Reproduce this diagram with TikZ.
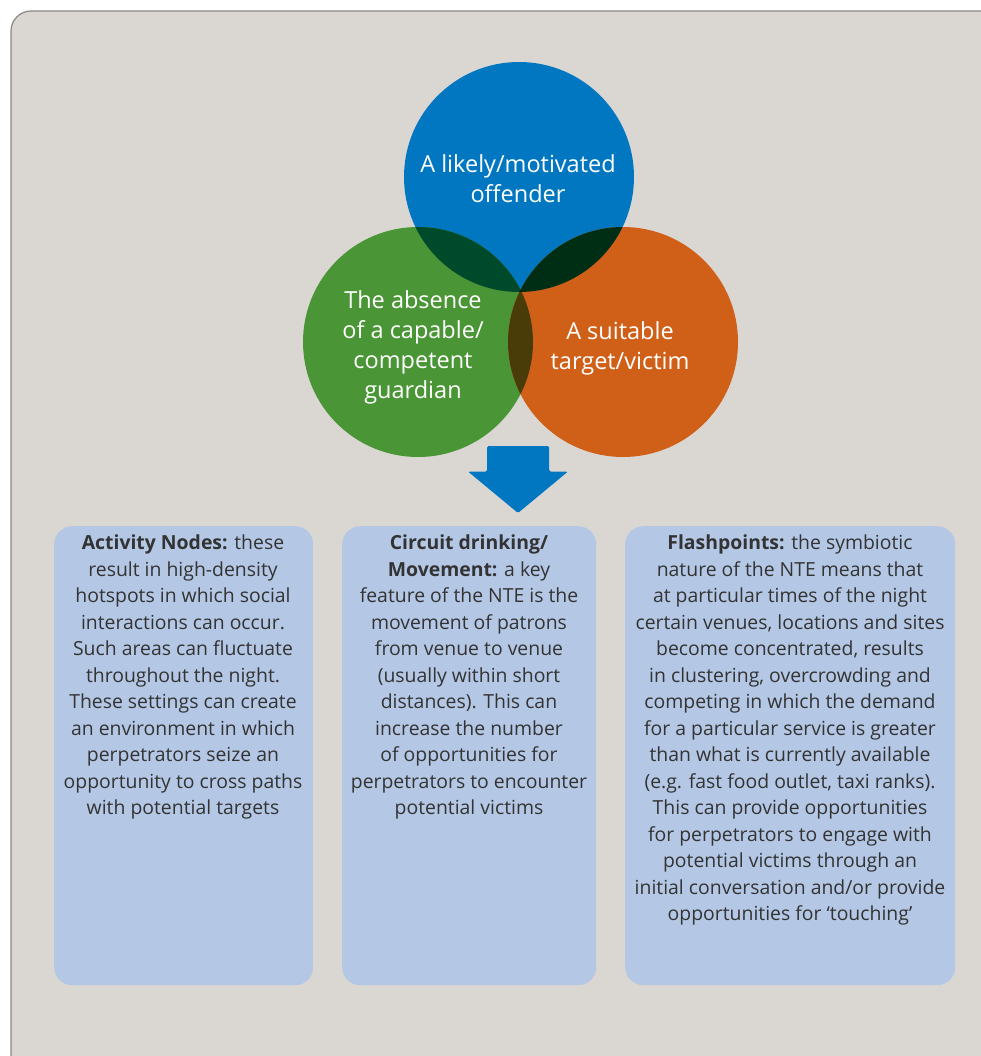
\documentclass[tikz,border=0pt]{standalone}
\usepackage{fontspec}
\setmainfont{Open Sans}
\definecolor{panelfill}{HTML}{DAD7D2}
\definecolor{panelline}{HTML}{8C8782}
\definecolor{cblue}{HTML}{0077C0}
\definecolor{cgreen}{HTML}{4A9535}
\definecolor{corange}{HTML}{D06018}
\definecolor{bg}{HTML}{004A2C}
\definecolor{bo}{HTML}{002E14}
\definecolor{go}{HTML}{4A3C08}
\definecolor{bgo}{HTML}{001A04}
\definecolor{boxfill}{HTML}{B4C8E6}
\definecolor{boxtxt}{HTML}{333333}
\tikzset{
  circtext/.style={text=white, align=center, inner sep=0pt, anchor=north, font=\fontsize{23.5}{30}\selectfont},
  infobox/.style={fill=boxfill, rounded corners=18pt, draw=none, anchor=north west, inner sep=0pt},
  infotext/.style={text=boxtxt, align=center, inner sep=0pt, anchor=north, font=\fontsize{19.4}{26.5}\selectfont},
}
\begin{document}
\begin{tikzpicture}[x=1pt,y=-1pt]
\useasboundingbox (0,0) rectangle (981,1056);
\fill[white] (0,0) rectangle (981,1056);
\draw[panelline, fill=panelfill, line width=1.2pt, rounded corners=20pt] (11,1080) -- (11,11) -- (1000,11) -- (1000,1080) -- cycle;
% circles
\coordinate (cb) at (519,177);
\coordinate (cg) at (418,342);
\coordinate (co) at (623,342);
\fill[cblue] (cb) circle (115pt);
\fill[cgreen] (cg) circle (115pt);
\fill[corange] (co) circle (115pt);
\begin{scope}\clip (cb) circle (115pt); \fill[bg] (cg) circle (115pt);\end{scope}
\begin{scope}\clip (cb) circle (115pt); \fill[bo] (co) circle (115pt);\end{scope}
\begin{scope}\clip (cg) circle (115pt); \fill[go] (co) circle (115pt);\end{scope}
\begin{scope}\clip (cg) circle (115pt); \clip (cb) circle (115pt); \fill[bgo] (co) circle (115pt);\end{scope}
\node[circtext] (toff) at (518,154) {A likely/motivated\\offender};
\node[circtext] (tgua) at (413,290) {The absence\\of a capable/\\competent\\guardian};
\node[circtext] (tvic) at (620,321) {A suitable\\target/victim};
% arrow
\fill[cblue, rounded corners=1.5pt] (487,446) -- (549,446) -- (549,471.5) -- (568,471.5) -- (518,513) -- (468,471.5) -- (487,471.5) -- cycle;
% boxes
\node[infobox, minimum width=259pt, minimum height=459pt] (b1) at (54,526) {};
\node[infobox, minimum width=254pt, minimum height=459pt] (b2) at (342,526) {};
\node[infobox, minimum width=330pt, minimum height=459pt] (b3) at (625,526) {};
\node[infotext] (t1) at (183,535) {\textbf{Activity Nodes:} these\\result in high-density\\hotspots in which social\\interactions can occur.\\Such areas can fluctuate\\throughout the night.\\These settings can create\\an environment in which\\perpetrators seize an\\opportunity to cross paths\\with potential targets};
\node[infotext] (t2) at (469,535) {\textbf{Circuit drinking/}\\\textbf{Movement:} a key\\feature of the NTE is the\\movement of patrons\\from venue to venue\\(usually within short\\distances). This can\\increase the number\\of opportunities for\\perpetrators to encounter\\potential victims};
\node[infotext] (t3) at (790,535) {\textbf{Flashpoints:} the symbiotic\\nature of the NTE means that\\at particular times of the night\\certain venues, locations and sites\\become concentrated, results\\in clustering, overcrowding and\\competing in which the demand\\for a particular service is greater\\than what is currently available\\(e.g. fast food outlet, taxi ranks).\\This can provide opportunities\\for perpetrators to engage with\\potential victims through an\\initial conversation and/or provide\\opportunities for ‘touching’};
\end{tikzpicture}
\end{document}
